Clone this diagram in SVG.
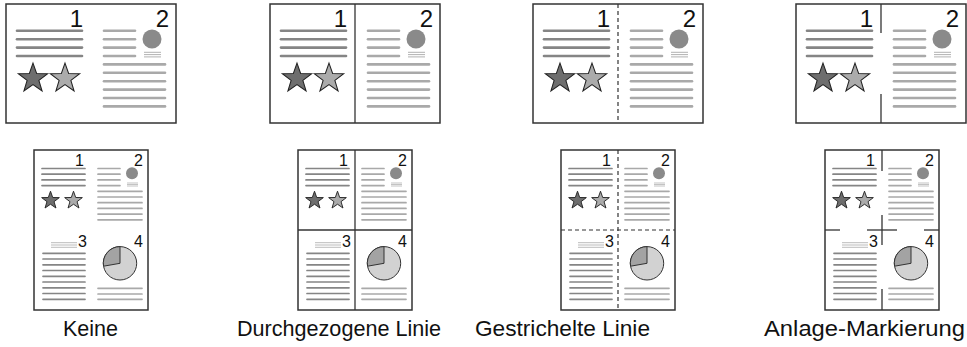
<svg xmlns="http://www.w3.org/2000/svg" xmlns:xlink="http://www.w3.org/1999/xlink" width="967" height="347" viewBox="0 0 967 347">
<style>
.frame{fill:#fff;stroke:#333;stroke-width:1.5}
.sep{stroke:#333;stroke-width:1.3;fill:none}
.dash{stroke:#333;stroke-width:1.2;fill:none;stroke-dasharray:4 3}
.dk{stroke:#858585;stroke-linecap:round;fill:none}
.lt{stroke:#a9a9a9;stroke-linecap:round;fill:none}
.thin{stroke:#a9a9a9;fill:none}
.num{font-family:"Liberation Sans",Arial,sans-serif;fill:#111;text-anchor:end}
.lbl{font-family:"Liberation Sans",Arial,sans-serif;font-size:22px;fill:#111;text-anchor:start}
.s1{fill:#6e6e6e;stroke:#222}
.s2{fill:#ababab;stroke:#222}
</style>
<defs>
<path id="star" d="M0,-15 L3.53,-4.85 L14.27,-4.64 L5.71,1.85 L8.82,12.14 L0,6 L-8.82,12.14 L-5.71,1.85 L-14.27,-4.64 L-3.53,-4.85 Z"/>
<g id="topPage">
<rect class="frame" x="0" y="0" width="170" height="119"/>
<text class="num" x="77" y="23" font-size="24">1</text>
<g class="dk" stroke-width="2.6">
<line x1="11" y1="26.8" x2="76" y2="26.8"/>
<line x1="11" y1="35.2" x2="76" y2="35.2"/>
<line x1="11" y1="43.6" x2="76" y2="43.6"/>
<line x1="11" y1="52" x2="76" y2="52"/>
</g>
<use xlink:href="#star" class="s1" stroke-width="1" transform="translate(27,74.5) scale(1.03)"/>
<use xlink:href="#star" class="s2" stroke-width="1" transform="translate(59,74.5) scale(1.03)"/>
<text class="num" x="163" y="23" font-size="24">2</text>
<g class="lt" stroke-width="2.6">
<line x1="98" y1="26.8" x2="129" y2="26.8"/>
<line x1="98" y1="35.2" x2="129" y2="35.2"/>
<line x1="98" y1="43.6" x2="129" y2="43.6"/>
<line x1="98" y1="52" x2="129" y2="52"/>
<line x1="98" y1="60.4" x2="159" y2="60.4"/>
<line x1="98" y1="68.8" x2="159" y2="68.8"/>
<line x1="98" y1="77.2" x2="159" y2="77.2"/>
<line x1="98" y1="85.6" x2="159" y2="85.6"/>
<line x1="98" y1="94" x2="159" y2="94"/>
<line x1="98" y1="102.4" x2="159" y2="102.4"/>
</g>
<circle cx="146" cy="35" r="9.5" fill="#8a8a8a"/>
<g class="thin" stroke-width="0.9">
<line x1="138" y1="48.3" x2="155" y2="48.3"/>
<line x1="138" y1="50.6" x2="155" y2="50.6"/>
<line x1="138" y1="52.9" x2="155" y2="52.9"/>
</g>
</g>
<g id="botPage">
<rect class="frame" x="0" y="0" width="114" height="160"/>
<text class="num" x="50" y="16" font-size="16">1</text>
<g class="dk" stroke-width="1.7">
<line x1="8" y1="18.5" x2="51" y2="18.5"/>
<line x1="8" y1="24.2" x2="51" y2="24.2"/>
<line x1="8" y1="29.9" x2="51" y2="29.9"/>
<line x1="8" y1="35.6" x2="51" y2="35.6"/>
</g>
<use xlink:href="#star" class="s1" stroke-width="1.5" transform="translate(16.5,50.5) scale(0.62)"/>
<use xlink:href="#star" class="s2" stroke-width="1.5" transform="translate(39.5,50.5) scale(0.62)"/>
<text class="num" x="109" y="16" font-size="16">2</text>
<g class="lt" stroke-width="1.7">
<line x1="64" y1="18.5" x2="86" y2="18.5"/>
<line x1="64" y1="24.2" x2="86" y2="24.2"/>
<line x1="64" y1="29.9" x2="86" y2="29.9"/>
<line x1="64" y1="35.6" x2="86" y2="35.6"/>
<line x1="64" y1="41.3" x2="108" y2="41.3"/>
<line x1="64" y1="47" x2="108" y2="47"/>
<line x1="64" y1="52.7" x2="108" y2="52.7"/>
<line x1="64" y1="58.4" x2="108" y2="58.4"/>
<line x1="64" y1="64.1" x2="108" y2="64.1"/>
<line x1="64" y1="69.8" x2="108" y2="69.8"/>
</g>
<circle cx="98" cy="23.3" r="6" fill="#8a8a8a"/>
<g class="thin" stroke-width="0.7">
<line x1="93" y1="33" x2="104" y2="33"/>
<line x1="93" y1="34.5" x2="104" y2="34.5"/>
<line x1="93" y1="36" x2="104" y2="36"/>
</g>
<text class="num" x="53" y="97" font-size="16">3</text>
<g class="thin" stroke-width="0.8">
<line x1="17" y1="92.7" x2="43" y2="92.7"/>
<line x1="17" y1="95" x2="43" y2="95"/>
<line x1="17" y1="97.3" x2="43" y2="97.3"/>
</g>
<g class="dk" stroke-width="1.7" stroke="#999">
<line x1="9" y1="103.3" x2="51" y2="103.3"/>
<line x1="9" y1="109" x2="51" y2="109"/>
<line x1="9" y1="114.8" x2="51" y2="114.8"/>
<line x1="9" y1="120.5" x2="51" y2="120.5"/>
<line x1="9" y1="126.3" x2="51" y2="126.3"/>
<line x1="9" y1="132" x2="51" y2="132"/>
<line x1="9" y1="137.8" x2="51" y2="137.8"/>
<line x1="9" y1="143.5" x2="51" y2="143.5"/>
<line x1="9" y1="149.3" x2="51" y2="149.3"/>
</g>
<text class="num" x="109" y="97" font-size="16">4</text>
<circle cx="86" cy="113.3" r="16.7" fill="#d2d2d2" stroke="#333" stroke-width="1"/>
<path d="M86,113.3 L86,96.6 A16.7,16.7 0 0 0 69.55,116.2 Z" fill="#a3a3a3" stroke="#333" stroke-width="1"/>
<g class="lt" stroke-width="1.7">
<line x1="64" y1="138.3" x2="108" y2="138.3"/>
<line x1="64" y1="144" x2="108" y2="144"/>
<line x1="64" y1="149.3" x2="108" y2="149.3"/>
</g>
</g>
</defs>

<g id="keine">
<use xlink:href="#topPage" x="6" y="4"/>
<use xlink:href="#botPage" x="34" y="150"/>
<text class="lbl" x="63" y="336" textLength="55" lengthAdjust="spacingAndGlyphs">Keine</text>
</g>

<g id="durchgezogene-linie">
<use xlink:href="#topPage" x="270" y="4"/>
<line class="sep" x1="355" y1="4" x2="355" y2="123"/>
<use xlink:href="#botPage" x="298" y="150"/>
<line class="sep" x1="355" y1="150" x2="355" y2="310"/>
<line class="sep" x1="298" y1="230" x2="412" y2="230"/>
<text class="lbl" x="237" y="336" textLength="204" lengthAdjust="spacingAndGlyphs">Durchgezogene Linie</text>
</g>

<g id="gestrichelte-linie">
<use xlink:href="#topPage" x="533" y="4"/>
<line class="dash" x1="618" y1="4" x2="618" y2="123"/>
<use xlink:href="#botPage" x="561" y="150"/>
<line class="dash" x1="618" y1="150" x2="618" y2="310"/>
<line class="dash" x1="561" y1="230" x2="675" y2="230"/>
<text class="lbl" x="475" y="336" textLength="175" lengthAdjust="spacingAndGlyphs">Gestrichelte Linie</text>
</g>

<g id="anlage-markierung">
<use xlink:href="#topPage" x="796" y="4"/>
<line class="sep" x1="881" y1="4" x2="881" y2="33"/>
<line class="sep" x1="881" y1="94" x2="881" y2="123"/>
<use xlink:href="#botPage" x="825" y="150"/>
<line class="sep" x1="882" y1="150" x2="882" y2="171"/>
<line class="sep" x1="882" y1="289" x2="882" y2="310"/>
<line class="sep" x1="882" y1="215" x2="882" y2="245"/>
<line class="sep" x1="867" y1="230" x2="897" y2="230"/>
<line class="sep" x1="825" y1="230" x2="840" y2="230"/>
<line class="sep" x1="924" y1="230" x2="939" y2="230"/>
<text class="lbl" x="764" y="336" textLength="201" lengthAdjust="spacingAndGlyphs">Anlage-Markierung</text>
</g>

<g id="connectors"/>
</svg>
